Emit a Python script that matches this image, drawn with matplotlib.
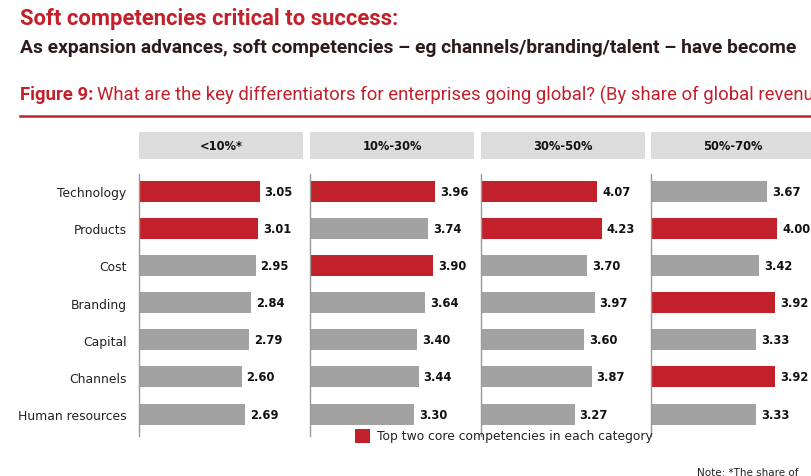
import matplotlib
matplotlib.use("Agg")
import matplotlib.pyplot as plt
from matplotlib.patches import Rectangle

W, H = 811, 477
categories = ["Technology", "Products", "Cost", "Branding", "Capital", "Channels", "Human resources"]
panel_titles = ["<10%*", "10%-30%", "30%-50%", "50%-70%"]
values = [
    [3.05, 3.01, 2.95, 2.84, 2.79, 2.60, 2.69],
    [3.96, 3.74, 3.90, 3.64, 3.40, 3.44, 3.30],
    [4.07, 4.23, 3.70, 3.97, 3.60, 3.87, 3.27],
    [3.67, 4.00, 3.42, 3.92, 3.33, 3.92, 3.33],
]
top_two = [
    ["Technology", "Products"],
    ["Technology", "Cost"],
    ["Technology", "Products"],
    ["Products", "Branding", "Channels"],
]
xmax = [4.15, 5.19, 5.73, 5.19]

RED = "#c2202b"
GREY = "#a2a2a2"
DARK = "#2e1c1c"
FAM = ["Roboto", "DejaVu Sans"]

fig = plt.figure(figsize=(W / 100, H / 100), dpi=100)
fig.patch.set_facecolor("white")

def fx(px):
    return px / W

def fy(py):
    return 1 - py / H

# Titles
fig.text(fx(20), fy(19), "Soft competencies critical to success:", color=RED,
         fontsize=15.8, fontweight="bold", family=FAM, va="center", ha="left")
fig.text(fx(20), fy(48), "As expansion advances, soft competencies \u2013 eg channels/branding/talent \u2013 have become",
         color=DARK, fontsize=13.9, fontweight="bold", family=FAM, va="center", ha="left")
t1 = fig.text(fx(20), fy(95), "Figure 9:", color=RED, fontsize=13.3, fontweight="bold",
              family=FAM, va="center", ha="left")
fig.canvas.draw()
bb = t1.get_window_extent(renderer=fig.canvas.get_renderer())
fig.text(bb.x1 / W + fx(4), fy(95),
         "What are the key differentiators for enterprises going global? (By share of global revenue",
         va="center", ha="left", color=RED, fontsize=13.3, family=FAM)
fig.add_artist(plt.Line2D([fx(20), fx(811)], [fy(117), fy(117)], color=RED, lw=1.8,
                          transform=fig.transFigure))

ax_left = [139, 310, 481, 651]
panel_w = 164
ax_top, ax_bot = 175, 437
ypos = list(range(len(categories)))

for i, (vals, title) in enumerate(zip(values, panel_titles)):
    ax = fig.add_axes([fx(ax_left[i]), fy(ax_bot), panel_w / W, (ax_bot - ax_top) / H])
    colors = [RED if c in top_two[i] else GREY for c in categories]
    ax.barh(ypos, vals, height=0.565, color=colors, edgecolor="none")
    for y, v in zip(ypos, vals):
        ax.annotate(f"{v:.2f}", xy=(v, y), xytext=(3.5, 0), textcoords="offset points",
                    va="center", ha="left", fontsize=8.3, fontweight="bold", color="#111111")
    ax.set_xlim(0, xmax[i])
    ax.set_ylim(6.59, -0.46)
    ax.set_xticks([])
    for s in ["top", "right", "bottom"]:
        ax.spines[s].set_visible(False)
    ax.spines["left"].set_color("#9a9a9a")
    ax.spines["left"].set_linewidth(1.0)
    if i == 0:
        ax.set_yticks(ypos)
        ax.set_yticklabels(categories, fontsize=8.9, color="#222222")
        ax.tick_params(axis="y", length=0, pad=9)
    else:
        ax.set_yticks([])
    # header box
    fig.add_artist(Rectangle((fx(ax_left[i]), fy(160)), panel_w / W, 27 / H,
                             transform=fig.transFigure, facecolor="#dcdcdc", edgecolor="none"))
    fig.text(fx(ax_left[i] + panel_w / 2), fy(147), title, ha="center", va="center",
             fontsize=8.3, fontweight="bold", color="#111111")

# Legend
fig.add_artist(Rectangle((fx(355), fy(444)), 15 / W, 14 / H, transform=fig.transFigure,
                         facecolor=RED, edgecolor="none"))
fig.text(fx(377), fy(437), "Top two core competencies in each category", ha="left", va="center",
         fontsize=8.9, color="#222222")
fig.text(fx(697), fy(473), "Note: *The share of", ha="left", va="center",
         fontsize=7.5, color="#222222")

fig.savefig("out.png", dpi=100)
